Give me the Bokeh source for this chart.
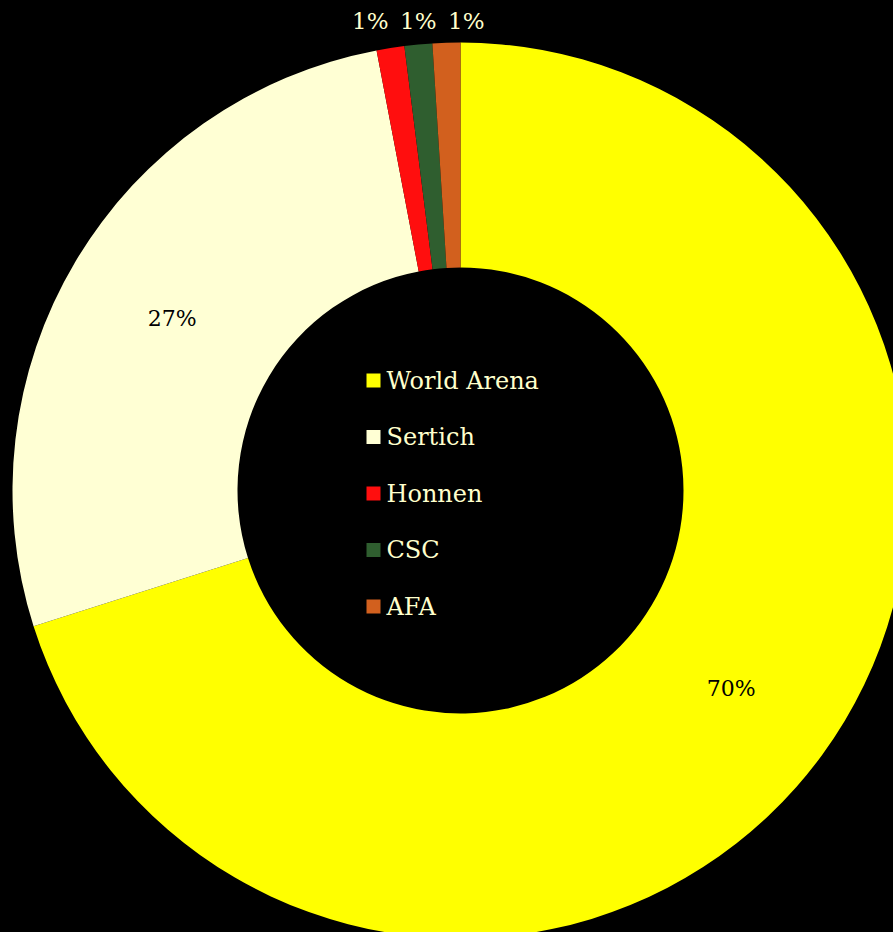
import math
from bokeh.plotting import figure
from bokeh.models import ColumnDataSource, Range1d
from bokeh.core.properties import value
from bokeh.embed import file_html
from bokeh.resources import INLINE

# ---- data ----
names = ["World Arena", "Sertich", "Honnen", "CSC", "AFA"]
shares = [70.1, 26.9, 1.0, 1.0, 1.0]
colors = ["#FFFF00", "#FFFFD4", "#FF0E0E", "#2F5E2F", "#D2601E"]

# ---- layout (data units == pixels; y measured upwards) ----
W, H = 893, 932
cx, cy = 460, H - 490
r_in, r_out = 223, 448
FONT = "DejaVu Serif"

p = figure(width=W, height=H, output_backend="svg", toolbar_location=None,
           x_range=Range1d(0, W), y_range=Range1d(0, H), min_border=0)
p.background_fill_color = "black"
p.border_fill_color = "black"
p.outline_line_color = None
p.axis.visible = False
p.grid.visible = False

total = sum(shares)
starts, ends, mids = [], [], []
cum = 0.0
for v in shares:
    a0 = math.pi / 2 - 2 * math.pi * cum / total
    cum += v
    a1 = math.pi / 2 - 2 * math.pi * cum / total
    starts.append(a0)
    ends.append(a1)
    mids.append((a0 + a1) / 2)

src = ColumnDataSource(dict(name=names, share=shares, color=colors,
                            start=starts, end=ends))
p.annular_wedge(x=cx, y=cy, inner_radius=r_in, outer_radius=r_out,
                start_angle="start", end_angle="end", direction="clock",
                fill_color="color", line_color=None, source=src)

# ---- percentage labels ----
r_mid = (r_in + r_out) / 2
r_lab = 470
in_x, in_y, in_t = [], [], []
small = []
for v, m in zip(shares, mids):
    txt = f"{round(v)}%"
    if v / total >= 0.05:
        in_x.append(cx + r_mid * math.cos(m))
        in_y.append(cy + r_mid * math.sin(m))
        in_t.append(txt)
    else:
        small.append((cx + r_lab * math.cos(m), cy + r_lab * math.sin(m), txt))

p.text(x=in_x, y=in_y, text=in_t, text_color="black",
       text_font=value(FONT), text_font_size="22px",
       text_align="center", text_baseline="middle")

if small:
    mean_x = sum(s[0] for s in small) / len(small)
    top_y = max(s[1] for s in small)
    n = len(small)
    gap = 48
    ox = [mean_x + 2 + (k - (n - 1) / 2) * gap for k in range(n)]
    p.text(x=ox, y=[top_y] * n, text=[s[2] for s in small],
           text_color="#FFFFCC", text_font=value(FONT), text_font_size="23px",
           text_align="center", text_baseline="middle")

# ---- legend in the hole ----
pitch = 56.5
ly = [cy - 3 - (i - (len(names) - 1) / 2) * pitch for i in range(len(names))]
p.rect(x=[cx - 87] * len(names), y=ly, width=14, height=14,
       fill_color=colors, line_color=None)
p.text(x=[cx - 74] * len(names), y=ly, text=names, text_color="#FFFFCC",
       text_font=value(FONT), text_font_size="24px",
       text_align="left", text_baseline="middle")

html = file_html(p, INLINE)
html = html.replace("<head>", "<head><style>html,body{background:#000;}</style>", 1)
open("out.html", "w").write(html)
